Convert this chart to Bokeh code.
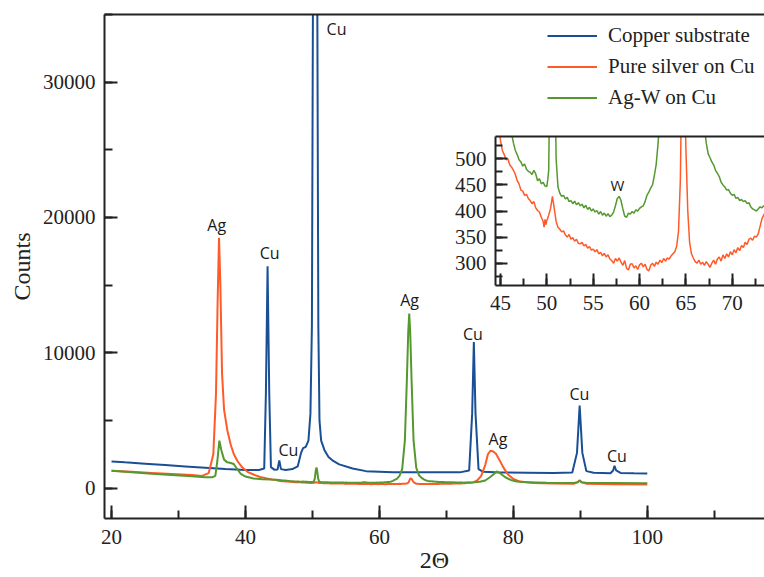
from bokeh.plotting import figure
from bokeh.models import (Range1d, SingleIntervalTicker, FixedTicker, LinearAxis, Legend,
                          LegendItem, ColumnDataSource, BasicTickFormatter, GridBox)
from bokeh.embed import file_html
from bokeh.resources import INLINE
from bokeh.core.properties import value

# ---------------- data ----------------
cu_two_theta = [20, 22, 25, 28, 31, 34, 37, 40, 42, 42.8, 43.05, 43.3, 43.55, 43.8, 44.3, 44.8,
                45.05, 45.3, 46, 47, 47.8, 48.3, 48.6, 49.0, 49.4, 49.7, 49.92, 50.1, 50.7,
                50.88, 51.05, 51.3, 51.8, 52.4, 53.1, 54, 56, 58, 62, 66, 70, 72, 73.4, 73.85,
                74.1, 74.35, 74.8, 75.5, 78, 82, 86, 88.8, 89.5, 89.9, 90.3, 90.9, 92, 94.5,
                94.9, 95.1, 95.35, 96, 98, 100]
cu_counts = [1970, 1900, 1800, 1700, 1600, 1500, 1400, 1340, 1330, 1450, 7000, 16400, 7000, 1550,
             1360, 1380, 2050, 1400, 1340, 1400, 1600, 2600, 2950, 3050, 3500, 5500, 12000, 40000,
             40000, 12000, 5000, 3500, 2800, 2300, 2000, 1750, 1450, 1250, 1160, 1170, 1160, 1160,
             1300, 5500, 10800, 5500, 1400, 1200, 1150, 1130, 1110, 1150, 2600, 6100, 2600, 1250,
             1130, 1100, 1300, 1650, 1300, 1120, 1090, 1080]

ag_two_theta = [20, 23, 26, 29, 32, 33.5, 34.5, 35.2, 35.6, 35.85, 36.05, 36.25, 36.5, 36.8, 37.3,
                37.8, 38.25, 38.8, 39.5, 40.3, 41.2, 42.2, 43.2, 44.0,
                44.6, 44.8, 45.0, 45.2, 45.4, 45.6, 45.8, 46.0, 46.2, 46.4, 46.6, 46.8, 47.0, 47.2,
                47.4, 47.6, 47.8, 48.0, 48.2, 48.4, 48.6, 48.8, 49.0, 49.2, 49.4, 49.6, 49.7, 49.8,
                49.9, 50.0, 50.2, 50.4, 50.6, 50.8, 51.0, 51.2, 51.4, 51.6, 51.8, 52.0, 52.2, 52.4,
                52.6, 52.8, 53.0, 53.2, 53.4, 53.6, 53.8, 54.0, 54.2, 54.4, 54.6, 54.8, 55.0, 55.2,
                55.4, 55.6, 55.8, 56.0, 56.2, 56.4, 56.6, 56.8, 57.0, 57.2, 57.4, 57.6, 57.8, 58.0,
                58.2, 58.4, 58.6, 58.8, 59.0, 59.2, 59.4, 59.6, 59.8, 60.0, 60.2, 60.4, 60.6, 60.8,
                61.0, 61.2, 61.4, 61.6, 61.8, 62.0, 62.2, 62.4, 62.6, 62.8, 63.0, 63.2, 63.4, 63.6,
                63.8, 64.0, 64.2, 64.4, 64.55, 64.7, 64.85, 65.0, 65.2, 65.4, 65.6, 65.8, 66.0, 66.2,
                66.4, 66.6, 66.8, 67.0, 67.2, 67.4, 67.6, 67.8, 68.0, 68.2, 68.4, 68.6, 68.8, 69.0,
                69.2, 69.4, 69.6, 69.8, 70.0, 70.2, 70.4, 70.6, 70.8, 71.0, 71.2, 71.4, 71.6, 71.8,
                72.0, 72.2, 72.4, 72.6, 72.8, 73.0, 73.2, 73.4, 73.6,
                74.0, 74.6, 75.2, 75.8, 76.2, 76.6, 77.0, 77.4, 77.9, 78.5, 79.2, 80.0, 81, 83, 86,
                89, 89.6, 89.9, 90.2, 91, 95, 100]
ag_counts = [1280, 1200, 1120, 1040, 960, 900, 1100, 2500, 7000, 14000, 18500, 15000, 8500, 5800,
             4240, 3200, 2520, 2000, 1530, 1200, 1000, 820, 700, 640,
             600, 560, 535, 516, 508, 498, 500, 488, 484, 478, 470, 458, 452, 440,
             438, 430, 432, 424, 420, 414, 418, 406, 401, 398, 388, 380, 369, 384,
             374, 382, 392, 405, 428, 405, 380, 369, 365, 360, 362, 354, 350, 355,
             346, 349, 342, 346, 338, 337, 340, 333, 336, 329, 332, 325, 327, 322,
             326, 318, 321, 314, 319, 312, 316, 308, 305, 300, 309, 304, 310, 302,
             296, 305, 290, 287, 298, 299, 291, 295, 288, 297, 300, 293, 298, 288,
             285, 296, 300, 294, 302, 298, 306, 301, 309, 304, 310, 308, 314, 318,
             322, 332, 360, 458, 650, 720, 640, 520, 401, 340, 318, 310, 303, 300,
             306, 298, 302, 296, 303, 298, 292, 300, 306, 298, 308, 312, 304, 316,
             309, 318, 312, 322, 316, 326, 320, 330, 324, 334, 330, 340, 336, 346,
             348, 344, 352, 350, 356, 370, 385, 392, 400,
             420, 560, 900, 1700, 2500, 2760, 2700, 2540, 2100, 1530, 1000, 670, 480, 380, 330,
             310, 420, 590, 420, 310, 280, 260]

agw_two_theta = [20, 23, 26, 29, 32, 34, 35.0, 35.5, 35.8, 36.1, 36.4, 36.8, 37.3, 37.8, 38.25,
                 38.7, 39.3, 40.0, 41.2, 42.5, 43.8,
                 44.6, 45.0, 45.4, 45.8, 46.0, 46.2, 46.4, 46.6, 46.8, 47.0, 47.2, 47.4, 47.6, 47.8,
                 48.0, 48.2, 48.4, 48.6, 48.8, 49.0, 49.2, 49.4, 49.6, 49.8, 50.0, 50.1, 50.2, 50.35,
                 50.5, 50.6, 50.7, 50.85, 51.0, 51.2, 51.4, 51.6, 51.8, 52.0, 52.2, 52.4, 52.6, 52.8,
                 53.0, 53.2, 53.4, 53.6, 53.8, 54.0, 54.2, 54.4, 54.6, 54.8, 55.0, 55.2, 55.4, 55.6,
                 55.8, 56.0, 56.2, 56.4, 56.6, 56.8, 57.0, 57.2, 57.4, 57.6, 57.8, 58.0, 58.2, 58.4,
                 58.6, 58.8, 59.0, 59.2, 59.4, 59.6, 59.8, 60.0, 60.2, 60.4, 60.6, 60.8, 61.0, 61.2,
                 61.4, 61.6, 61.8, 62.0, 62.2, 62.6, 63.0, 63.4, 63.8, 64.1, 64.3, 64.45, 64.6, 64.8,
                 65.1, 65.5, 65.9, 66.3, 66.7, 67.0, 67.2, 67.4, 67.6, 67.8, 68.0, 68.2, 68.4, 68.6,
                 68.8, 69.0, 69.2, 69.4, 69.6, 69.8, 70.0, 70.2, 70.4, 70.6, 70.8, 71.0, 71.2, 71.4,
                 71.6, 71.8, 72.0, 72.2, 72.4, 72.6, 72.8, 73.0, 73.2, 73.4, 73.6,
                 74.2, 75.0, 75.8, 76.5, 77.0, 77.5, 78.0, 78.8, 79.6, 80.5, 82, 85, 89, 89.6, 89.9,
                 90.2, 91, 95, 100]
agw_counts = [1280, 1170, 1060, 970, 880, 800, 790, 900, 2000, 3500, 2800, 2100, 1900, 1850, 1780,
              1450, 1040, 850, 700, 660, 630,
              620, 600, 580, 565, 555, 548, 530, 516, 508, 498, 494, 486, 490, 480,
              476, 474, 470, 478, 471, 458, 462, 452, 455, 448, 447, 460, 478, 700,
              1300, 1530, 1300, 700, 500, 446, 434, 428, 430, 423, 426, 418, 420, 414,
              419, 412, 416, 410, 413, 406, 411, 403, 407, 400, 404, 398, 401, 394,
              399, 392, 396, 390, 395, 389, 392, 398, 410, 424, 428, 420, 404, 390,
              388, 396, 394, 399, 396, 402, 400, 405, 408, 410, 418, 430, 436, 444,
              450, 468, 490, 530, 580, 680, 900, 1400, 3500, 8000, 11500, 12900, 11500, 8000,
              3500, 1500, 950, 750, 620, 560, 530, 510, 502, 494, 488, 478, 472, 466,
              455, 450, 446, 440, 441, 434, 430, 432, 424, 426, 420, 422, 418, 420,
              414, 416, 408, 404, 402, 400, 404, 408, 406, 410, 408,
              420, 460, 560, 800, 1000, 1230, 1100, 800, 600, 480, 420, 390, 375, 440, 540,
              430, 375, 365, 355]

series_names = ["Copper substrate", "Pure silver on Cu", "Ag-W on Cu"]
series_colors = ["#1a4f96", "#ff5a28", "#55982f"]

peak_label_x = [35.7, 43.6, 46.4, 53.6, 64.5, 73.96, 77.7, 89.85, 95.45]
peak_label_y = [19420, 17350, 2840, 33900, 13870, 11400, 3630, 6960, 2390]
peak_label_text = ["Ag", "Cu", "Cu", "Cu", "Ag", "Cu", "Ag", "Cu", "Cu"]

inset_label_x = [57.6]
inset_label_y = [449]
inset_label_text = ["W"]

SERIF = "Liberation Serif"
AXIS_COLOR = "#222222"


def style_axis(ax, font_size):
    ax.axis_line_width = 2
    ax.axis_line_color = AXIS_COLOR
    ax.major_tick_line_width = 2
    ax.minor_tick_line_width = 2
    ax.major_tick_line_color = AXIS_COLOR
    ax.minor_tick_line_color = AXIS_COLOR
    ax.major_tick_in = 13
    ax.major_tick_out = 0
    ax.minor_tick_in = 8
    ax.minor_tick_out = 0
    ax.major_label_text_font = SERIF
    ax.major_label_text_font_size = font_size
    ax.major_label_text_color = "#222222"
    ax.axis_label_text_font = SERIF
    ax.axis_label_text_font_style = "normal"
    ax.axis_label_text_color = "#222222"


def border_axis(fig):
    top = LinearAxis(ticker=FixedTicker(ticks=[]), axis_line_width=2, axis_line_color=AXIS_COLOR,
                     major_tick_in=0, major_tick_out=0, minor_tick_in=0, minor_tick_out=0,
                     major_label_standoff=0, major_label_text_color=None)
    fig.add_layout(top, "above")


sources = [
    ColumnDataSource(dict(x=cu_two_theta, y=cu_counts)),
    ColumnDataSource(dict(x=ag_two_theta, y=ag_counts)),
    ColumnDataSource(dict(x=agw_two_theta, y=agw_counts)),
]

# ---------------- main figure ----------------
p = figure(width=764, height=577, output_backend="svg", toolbar_location=None,
           x_range=Range1d(18.95, 117.5), y_range=Range1d(-2250, 35000),
           min_border_left=104, min_border_right=0, min_border_top=14, min_border_bottom=59,
           x_axis_label="2Θ", y_axis_label="Counts")
p.outline_line_color = None
p.grid.visible = False
p.background_fill_color = "white"
p.border_fill_color = "white"

p.xaxis.ticker = SingleIntervalTicker(interval=20, num_minor_ticks=2)
p.yaxis.ticker = SingleIntervalTicker(interval=10000, num_minor_ticks=2)
p.yaxis.formatter = BasicTickFormatter(use_scientific=False)
for ax in p.xaxis + p.yaxis:
    style_axis(ax, "21px")
    ax.axis_label_text_font_size = "24px"
p.xaxis.major_label_standoff = 11
p.xaxis.axis_label_standoff = 0
p.yaxis.major_label_standoff = 9
p.yaxis.axis_label_standoff = 5
border_axis(p)

renderers = []
for src, col in zip(sources, series_colors):
    renderers.append(p.line("x", "y", source=src, line_color=col, line_width=2))

p.text(x=peak_label_x, y=peak_label_y, text=peak_label_text,
       text_font=value("Open Sans"), text_font_size="16px",
       text_align="center", text_baseline="middle", text_color="#1a1a1a")

legend = Legend(items=[LegendItem(label=n, renderers=[r]) for n, r in zip(series_names, renderers)],
                location=(443, 405))
legend.label_text_font = SERIF
legend.label_text_font_size = "21px"
legend.label_text_color = "#222222"
legend.glyph_width = 50
legend.glyph_height = 31
legend.label_height = 31
legend.spacing = 0
legend.padding = 0
legend.margin = 0
legend.label_standoff = 11
legend.border_line_color = None
legend.background_fill_alpha = 0
p.add_layout(legend)

# ---------------- inset figure ----------------
inset = figure(width=318, height=189, output_backend="svg", toolbar_location=None,
               x_range=Range1d(44.46, 73.48), y_range=Range1d(257.3, 542.7),
               min_border_left=49, min_border_right=0, min_border_top=6, min_border_bottom=34)
inset.outline_line_color = None
inset.grid.visible = False
inset.background_fill_color = "white"
inset.border_fill_alpha = 0
inset.xaxis.ticker = SingleIntervalTicker(interval=5, num_minor_ticks=2)
inset.yaxis.ticker = SingleIntervalTicker(interval=50, num_minor_ticks=2)
for ax in inset.xaxis + inset.yaxis:
    style_axis(ax, "21px")
    ax.major_tick_in = 12
    ax.minor_tick_in = 7
inset.xaxis.major_label_standoff = 10
inset.yaxis.major_label_standoff = 9
border_axis(inset)
for src, col in zip(sources, series_colors):
    inset.line("x", "y", source=src, line_color=col, line_width=1.5)
inset.text(x=inset_label_x, y=inset_label_y, text=inset_label_text,
           text_font=value("Open Sans"), text_font_size="15px",
           text_align="center", text_baseline="middle", text_color="#1a1a1a")

layout = GridBox(children=[(p, 0, 0, 3, 2), (inset, 1, 1)],
                 rows=["130px", "189px", "258px"], cols=["446px", "318px"], spacing=0)
open("out.html", "w").write(file_html(layout, INLINE))
